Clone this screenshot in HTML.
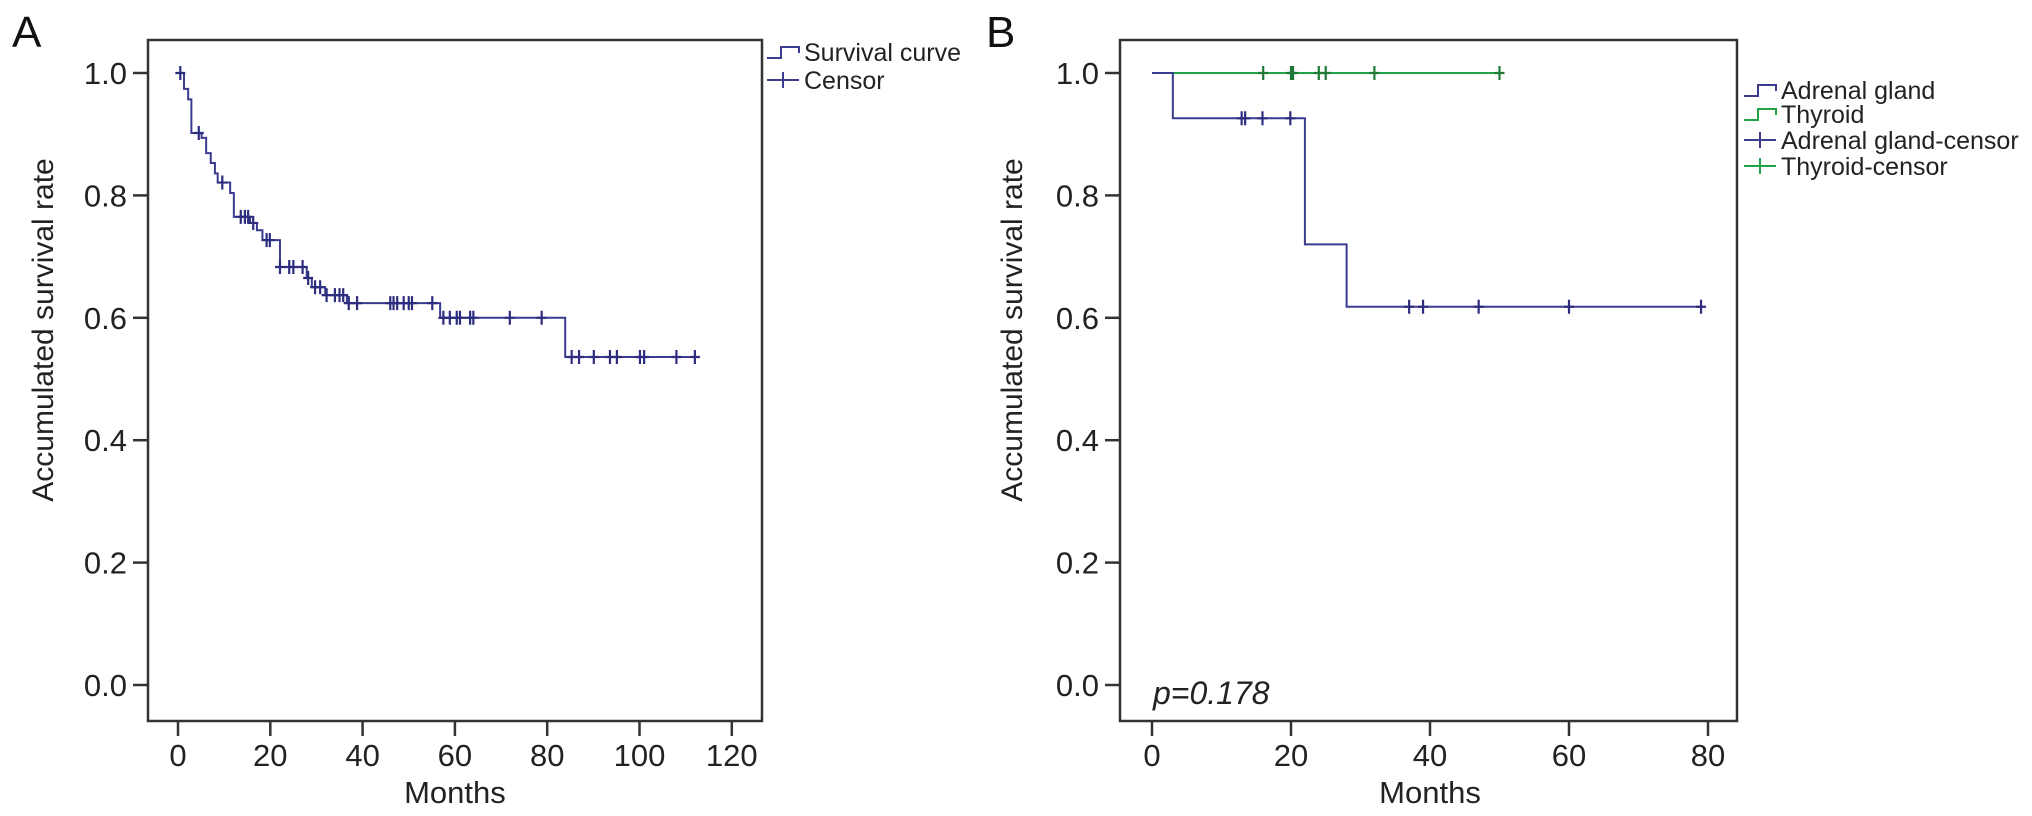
<!DOCTYPE html>
<html><head><meta charset="utf-8"><style>
html,body{margin:0;padding:0;background:#fff}
svg{display:block;font-family:"Liberation Sans",Arial,sans-serif}
</style></head><body>
<svg id="chart" width="2032" height="816" viewBox="0 0 2032 816">
<text x="12" y="47" font-size="44" fill="#111">A</text>
<text x="986" y="47" font-size="44" fill="#111">B</text>
</svg>
<script>
// Panel A data
const aStepTimes = [0, 1.3, 2.2, 2.9, 5.1, 6.1, 7.1, 8.0, 8.6, 11.3, 12.1, 15.6, 17.1, 18.3, 22.1, 27.9, 29.0, 31.9, 36.6, 56.8, 83.9];
const aStepSurv  = [1.0, 0.974, 0.957, 0.902, 0.894, 0.869, 0.853, 0.836, 0.821, 0.804, 0.765, 0.755, 0.743, 0.727, 0.683, 0.665, 0.65, 0.637, 0.624, 0.60, 0.536];
const aEndTime = 112;
const aCensorTimes = [0.5, 4.5, 9.6, 13.6, 14.5, 15.2, 16.3, 19.2, 19.9, 22.1, 24.1, 25, 27, 28.2, 29.7, 30.8, 32.2, 34, 35, 35.8, 37, 38.8, 46, 46.7, 47.5, 48.9, 50, 50.7, 55.1, 57.5, 58.9, 60.4, 61.1, 63.3, 64.0, 71.9, 78.8, 85.3, 86.9, 90.1, 93.6, 95.1, 100.1, 101, 108, 112];
const aXTicks = [0, 20, 40, 60, 80, 100, 120];
const yTicks = [0.0, 0.2, 0.4, 0.6, 0.8, 1.0];
// Panel B data
const bAdrenalTimes = [0, 3, 22, 28];
const bAdrenalSurv = [1.0, 0.926, 0.72, 0.618];
const bAdrenalEnd = 79;
const bAdrenalCensors = [12.9, 13.4, 15.9, 19.9, 37, 39, 47, 60, 79];
const bThyroidTimes = [0];
const bThyroidSurv = [1.0];
const bThyroidEnd = 50;
const bThyroidCensors = [16, 20, 20.3, 24, 25, 32, 50];
const bXTicks = [0, 20, 40, 60, 80];

const NS = "http://www.w3.org/2000/svg";
const svg = document.getElementById('chart');
function mk(tag, attrs, parent){const e=document.createElementNS(NS,tag);for(const k in attrs)e.setAttribute(k,attrs[k]);(parent||svg).appendChild(e);return e;}
const yS = v => 685 - v*612;
const BLUE="#3b3b8f", GREEN="#22a347", AX="#333";

function panel(o){
  const g = mk('g',{});
  
  
  const box = mk('rect',{x:o.left,y:40,width:o.right-o.left,height:721-40,fill:'none',stroke:AX,'stroke-width':2.5},g);
  
  
  yTicks.forEach(v=>{
    const t = mk('line',{x1:o.left-15,x2:o.left,y1:yS(v),y2:yS(v),stroke:AX,'stroke-width':2.5},g);
    
    
    const l = mk('text',{x:o.left-21,y:yS(v)+11,'font-size':31,'text-anchor':'end',fill:'#222'},g);
    l.textContent = v.toFixed(1);
    
    
  });
  o.xticks.forEach(v=>{
    const x=o.xs(v);
    const t = mk('line',{x1:x,x2:x,y1:721,y2:736,stroke:AX,'stroke-width':2.5},g);
    
    
    const l = mk('text',{x:x,y:766,'font-size':31,'text-anchor':'middle',fill:'#222'},g);
    l.textContent = v;
    
    
  });
  const xt = mk('text',{x:o.xs(o.xmid),y:803,'font-size':31,'text-anchor':'middle',fill:'#222'},g);
  xt.textContent='Months';
  
  
  const yt = mk('text',{x:0,y:0,'font-size':30,'text-anchor':'middle',fill:'#222',transform:`translate(${o.ylabx},330) rotate(-90)`},g);
  yt.textContent='Accumulated survival rate';
  
  
  return g;
}
function curve(g, xs, times, surv, end, color, name){
  let d = `M${xs(times[0])},${yS(surv[0])}`;
  for(let i=1;i<times.length;i++){d+=` H${xs(times[i])} V${yS(surv[i])}`;}
  d+=` H${xs(end)}`;
  const p = mk('path',{d:d,fill:'none',stroke:color,'stroke-width':2},g);
  
  
}
function survAt(times,surv,t){let s=surv[0];for(let i=0;i<times.length;i++){if(times[i]<=t)s=surv[i];}return s;}
function censors(g, xs, times, surv, cs, color, name){
  cs.forEach(t=>{
    const x=xs(t), y=yS(survAt(times,surv,t));
    const c = mk('path',{d:`M${x},${y-7} V${y+7} M${x-5},${y} H${x+5}`,stroke:color,'stroke-width':2.2,fill:'none'},g);
    
    
  });
}
function legend(x, y, label, color, kind){
  const g = mk('g',{});
  
  
  if(kind==='step') mk('path',{d:`M${x},${y+6} H${x+14} V${y-5} H${x+32} V${y+1}`,stroke:color,'stroke-width':2,fill:'none'},g);
  else mk('path',{d:`M${x},${y} H${x+32} M${x+16},${y-8} V${y+8}`,stroke:color,'stroke-width':2,fill:'none'},g);
  const t = mk('text',{x:x+37,y:y+9,'font-size':25,fill:'#222'},g);
  t.textContent = label;
}

// Panel A
const xA = t => 178 + t*4.615;
const gA = panel({name:'panel-a',left:148,right:762,xs:xA,xticks:aXTicks,xmid:60,ylabx:53});
curve(gA, xA, aStepTimes, aStepSurv, aEndTime, BLUE, 'survival-curve');
censors(gA, xA, aStepTimes, aStepSurv, aCensorTimes, '#2d2d80', 'censor-mark');
legend(767, 52, 'Survival curve', BLUE, 'step');
legend(767, 80, 'Censor', BLUE, 'cross');

// Panel B
const xB = t => 1152 + t*6.95;
const gB = panel({name:'panel-b',left:1120,right:1737,xs:xB,xticks:bXTicks,xmid:40,ylabx:1022});
curve(gB, xB, bThyroidTimes, bThyroidSurv, bThyroidEnd, GREEN, 'thyroid-curve');
curve(gB, xB, bAdrenalTimes, bAdrenalSurv, bAdrenalEnd, BLUE, 'adrenal-gland-curve');
censors(gB, xB, bAdrenalTimes, bAdrenalSurv, bAdrenalCensors, '#2d2d80', 'adrenal-censor-mark');
censors(gB, xB, bThyroidTimes, bThyroidSurv, bThyroidCensors, '#1f7a38', 'thyroid-censor-mark');
legend(1744, 90, 'Adrenal gland', BLUE, 'step');
legend(1744, 114, 'Thyroid', GREEN, 'step');
legend(1744, 140, 'Adrenal gland-censor', BLUE, 'cross');
legend(1744, 166, 'Thyroid-censor', GREEN, 'cross');
const pv = mk('text',{x:1153,y:704,'font-size':32,'font-style':'italic',fill:'#222'});
pv.textContent='p=0.178';


</script>
</body></html>
